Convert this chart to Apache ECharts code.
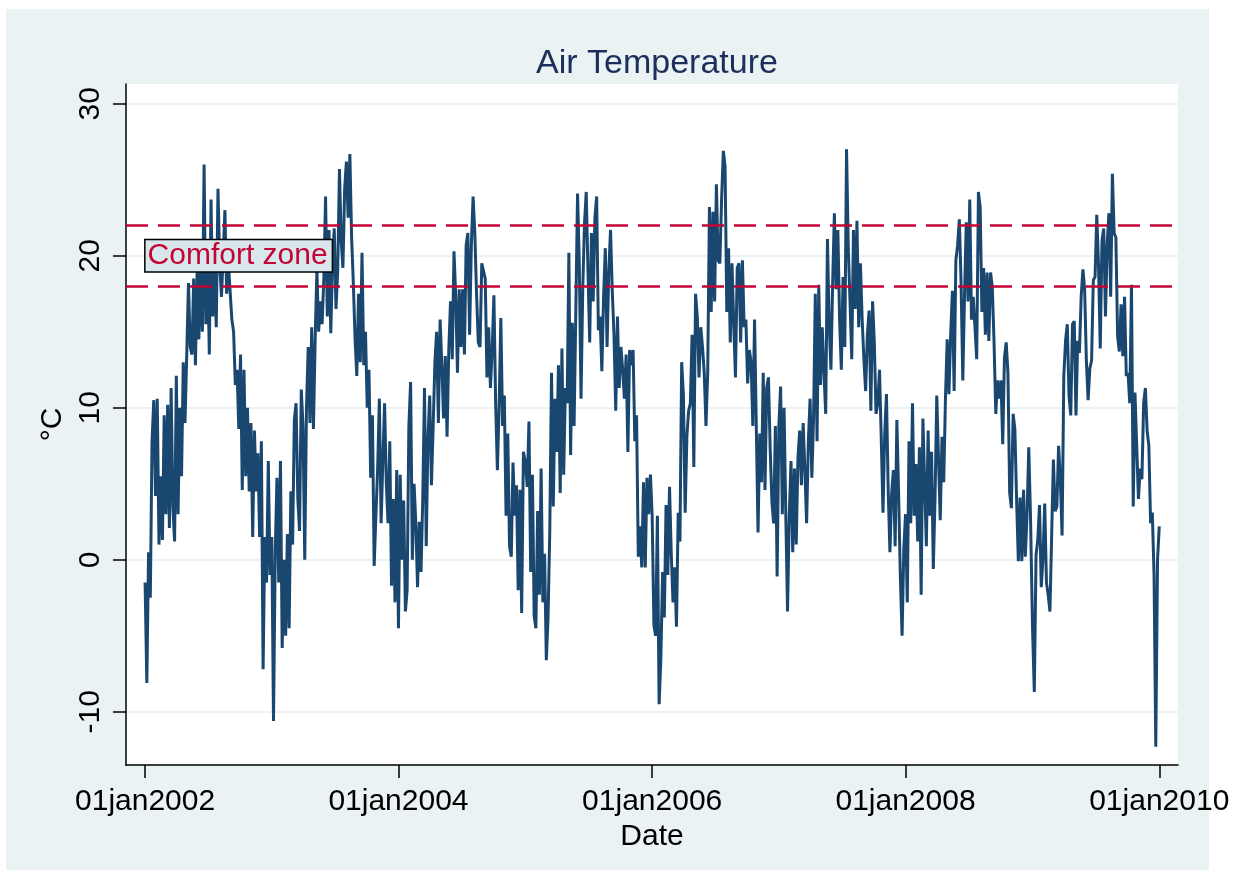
<!DOCTYPE html>
<html>
<head>
<meta charset="utf-8">
<title>Air Temperature</title>
<script src="https://cdn.jsdelivr.net/npm/echarts@6.0.0/dist/echarts.min.js"></script>
<style>
  html, body { margin: 0; padding: 0; background: #fff; }
  #panel { position: absolute; left: 6px; top: 9px; width: 1203px; height: 861px; background: #eaf2f3; }
  #main { position: absolute; left: 0; top: 0; width: 1247px; height: 880px; }
</style>
</head>
<body>
<div id="panel"></div>
<div id="main"></div>
<script>
// daily air temperature, every 5 days (starting 1 Jan of each year)
var years = [2002, 2003, 2004, 2005, 2006, 2007, 2008, 2009];
var stepDays = 5;

var t2002 = [-1.5, -8.1, 0.5, -2.5, 7.8, 10.5, 4.2, 10.6, 1.0, 5.5, 1.3, 9.5, 3.0, 10.2, 2.1, 11.3, 3.5, 1.2, 12.1, 3.0,
  10.0, 5.5, 13.0, 9.0, 13.5, 18.2, 14.0, 13.5, 18.5, 12.8, 19.0, 14.5, 20.0, 15.0, 26.0, 15.5, 20.0, 13.5, 23.7, 16.0,
  20.0, 15.3, 24.4, 19.5, 17.3, 20.0, 23.0, 17.5, 19.5, 19.5, 15.8, 15.0, 11.5, 12.5, 8.6, 13.5, 4.6, 12.5, 5.5, 10.0,
  4.5, 9.0, 1.5, 8.5, 4.5, 7.0, 1.5, 7.8, -7.2, 1.5, -1.5, 6.5, -1.0];
var t2003 = [1.5, -10.6, 0.5, 5.4, -1.5, 6.5, -5.8, 0.0, -5.0, 1.7, -4.5, 4.5, 1.0, 9.2, 10.3, 4.0, 1.9, 11.2, 8.8, 0.0,
  10.0, 14.0, 9.0, 15.3, 8.6, 14.5, 19.1, 15.0, 17.0, 15.5, 18.5, 23.9, 16.0, 21.7, 14.9, 19.5, 21.8, 16.5, 19.0, 25.7,
  21.0, 19.2, 24.4, 26.2, 22.5, 26.7, 21.2, 18.2, 14.5, 12.1, 17.5, 13.0, 20.2, 12.8, 15.0, 10.0, 12.5, 5.4, 9.5, -0.4,
  2.9, 6.0, 10.6, 2.4, 6.5, 10.3, 5.0, 2.4, 7.8, -1.7, 4.0, -2.8, 5.9];
var t2004 = [-4.5, 5.6, 0, 3.9, -3.4, -2, 8.8, 11.7, 0, 5, 2.4, -1.8, 2.5, -0.8, 4, 11.3, 0.9, 8, 10.8, 4.9,
  8.8, 13, 15, 9, 15.8, 12.8, 9.3, 13.4, 8.1, 13.8, 17, 13.2, 20.3, 17.3, 12.3, 17.8, 14, 17.8, 13.5, 20.7,
  21.5, 14.8, 20.7, 23.9, 21.5, 17.5, 14.3, 14, 19.5, 19.6, 18.5, 12, 15.3, 11.3, 13.8, 17.4, 10.3, 5.9, 10.1, 15.9,
  8.8, 10.8, 2.9, 8.3, 0.9, 0.2, 6.4, 2.9, 4.9, -2, 4.6, -3.5, 7.1];
var t2005 = [6.4, 4.8, 9.1, -0.8, 5.6, -3.7, -4.5, 3.2, -2.3, 6, -2.8, 0.4, -6.6, -3.8, 1.9, 12.3, 3.5, 10.6, 7.1, 12.8,
  4.4, 13.9, 5.6, 11.3, 10.3, 20.2, 6.9, 15.6, 8.8, 16.3, 24.1, 19.5, 10.6, 17.8, 22.1, 24.2, 19, 14.3, 21.5, 17,
  22.5, 23.9, 15.1, 16, 12.4, 17.3, 20.5, 14, 19, 21.7, 17.7, 14.8, 9.8, 16, 11.3, 14, 12.5, 10.6, 13.5, 7.1,
  13.8, 12.8, 13.8, 7.8, 9.5, 0.2, 2.2, -0.5, 5.1, -0.5, 5.4, 3, 5.6];
var t2006 = [2.9, -4.3, -5, 2.9, -9.5, -6.5, -0.8, -3.8, 3.6, -1, 4.8, 0.4, -2.8, -0.5, -4.4, 3.1, 1.2, 13, 10.8, 3.1,
  8.1, 9.8, 10.3, 14.8, 6.1, 17.5, 16, 12, 15.3, 14, 12.3, 8.8, 12.3, 23.2, 16.3, 22.9, 17, 24.7, 19.7, 19.5,
  23.7, 26.9, 25.9, 16.3, 20.5, 14.3, 19.5, 15.5, 12, 19.2, 19.5, 14.3, 19.7, 15.3, 15.8, 11.6, 13.8, 13, 8.8, 15.8,
  15.8, 1.8, 8.3, 5.1, 12.3, 4.6, 11.3, 12, 7.3, 3.8, 2.4, 8.8, -1.1];
var t2007 = [8.8, 11.4, 3, 10, 3, -3.4, 2.9, 6.5, 0.5, 6, 1, 6.7, 8.5, 4.9, 9, 5.9, 2.4, 7.8, 10.6, 5.4,
  9.3, 17.5, 7.8, 18.1, 11.5, 15.3, 12.3, 9.6, 21.1, 15.5, 12.5, 18.2, 22.8, 17.8, 21.7, 15.8, 12.5, 18.6, 14, 27,
  20.5, 17, 13.2, 21.7, 16.5, 22.3, 15.3, 19.5, 15.8, 13.2, 11.1, 14.8, 16.4, 9.8, 17, 14.3, 9.6, 10.3, 12.5, 8,
  3.1, 8.3, 10.9, 4.6, 0.5, 4.4, 5.9, 0.9, 9.2, 4.4, -1.1, -5, 0.7];
var t2008 = [3, -2.8, 7.8, 2.4, 10.3, 2.9, 6.3, 1.2, 7.4, -2.3, 9.3, 9.2, 0.9, 8.5, 2.9, 7.1, -0.6, 4.1, 10.8, 6.6,
  2.6, 8.1, 5.1, 10.6, 14.5, 10.9, 14.8, 17.7, 11.1, 19.7, 20.7, 22.4, 18.2, 11.8, 17.5, 22.2, 17, 23.7, 15.8, 17.3,
  15.3, 13.2, 24.2, 23.2, 16.3, 19.2, 14.8, 18.9, 14.4, 18.9, 17.9, 14.3, 9.6, 11.8, 10.6, 11.8, 7.6, 13.3, 14.3, 12.3,
  4.4, 3.4, 9.6, 8.6, 3.9, -0.1, 4.1, -0.1, 4.6, 0.2, 2.9, 7.4, 2.9];
var t2009 = [-4.6, -8.7, 0.3, 1.3, 3.6, -1.8, 0.1, 3.7, -1.5, -2.3, -3.4, 1.6, 6.6, 3.2, 3.5, 7.5, 5.3, 1.6, 12.1, 14.4,
  15.5, 10.8, 9.5, 15.5, 15.7, 9.5, 14.4, 13.6, 17.3, 19.1, 17.8, 13.1, 10.5, 12.6, 13.1, 18.4, 18.6, 22.7, 19.4, 13.9,
  21, 21.8, 16, 20.8, 22.8, 17.3, 25.4, 21.5, 21.2, 14.7, 13.7, 16.8, 13.4, 17.3, 12.1, 12.3, 10.3, 18.1, 3.5, 11,
  11, 4, 6, 5.3, 10.3, 11.3, 8.5, 7.5, 2.4, 3.1, -1, -12.3, 0, 2.2];
var temps = [t2002, t2003, t2004, t2005, t2006, t2007, t2008, t2009];

// comfort zone bounds
var comfortLow = 18;
var comfortHigh = 22;

// tick labels
var xTickYears = [2002, 2004, 2006, 2008, 2010];
var yTicks = [-10, 0, 10, 20, 30];

var months = ['jan','feb','mar','apr','may','jun','jul','aug','sep','oct','nov','dec'];
var font = '"Liberation Sans", Arial, sans-serif';

var data = [];
for (var k = 0; k < years.length; k++) {
  for (var i = 0; i < temps[k].length; i++) {
    data.push([Date.UTC(years[k], 0, 1 + stepDays * i), temps[k][i]]);
  }
}
var xTicks = xTickYears.map(function (y) { return Date.UTC(y, 0, 1); });

var chart = echarts.init(document.getElementById('main'));
var option = {
  animation: false,
  backgroundColor: 'transparent',
  title: {
    text: 'Air Temperature',
    left: 652,
    textAlign: 'center',
    top: 42,
    textStyle: { fontSize: 34, fontWeight: 'normal', color: '#1c2e5a', fontFamily: font }
  },
  grid: {
    left: 126, right: 69, top: 84, bottom: 115,
    show: true, backgroundColor: '#fff', borderWidth: 0
  },
  xAxis: {
    // dates as UTC milliseconds on a plain value axis
    type: 'value',
    min: Date.UTC(2001, 10, 7),
    max: Date.UTC(2010, 1, 24),
    name: 'Date',
    nameLocation: 'middle',
    nameGap: 48,
    nameTextStyle: { fontSize: 30, color: '#000', fontFamily: font },
    axisLine: { onZero: false, lineStyle: { color: '#000', width: 1.5 } },
    axisTick: { show: true, length: 13, lineStyle: { color: '#000', width: 1.5 }, customValues: xTicks },
    axisLabel: {
      customValues: xTicks,
      fontSize: 30, color: '#000', fontFamily: font, margin: 22,
      formatter: function (v) {
        var d = new Date(v);
        var dd = d.getUTCDate();
        return (dd < 10 ? '0' : '') + dd + months[d.getUTCMonth()] + d.getUTCFullYear();
      }
    },
    splitLine: { show: false }
  },
  yAxis: {
    type: 'value',
    min: -13.5,
    max: 31.3,
    name: '°C',
    nameLocation: 'middle',
    nameGap: 53,
    nameTextStyle: { fontSize: 30, color: '#000', fontFamily: font },
    axisLine: { show: true, onZero: false, lineStyle: { color: '#000', width: 1.5 } },
    axisTick: { show: true, length: 13, lineStyle: { color: '#000', width: 1.5 }, customValues: yTicks },
    axisLabel: { customValues: yTicks, rotate: 90, fontSize: 30, color: '#000', fontFamily: font, margin: 20 },
    splitLine: { show: true, lineStyle: { color: '#eaf2f3', width: 2 } }
  },
  series: [
    {
      name: 'comfort',
      type: 'line',
      data: [],
      z: 1,
      markLine: {
        silent: true,
        symbol: ['none', 'none'],
        label: { show: false },
        lineStyle: { color: '#c10534', width: 2.5, type: [22, 10] },
        data: [{ yAxis: comfortHigh }, { yAxis: comfortLow }]
      }
    },
    {
      name: 'Air temperature',
      type: 'line',
      data: data,
      z: 2,
      showSymbol: false,
      lineStyle: { color: '#1a476f', width: 3 },
      itemStyle: { color: '#1a476f' }
    },
    {
      name: 'label',
      type: 'line',
      data: [],
      z: 5,
      markPoint: {
        silent: true,
        symbol: 'rect',
        symbolSize: 1,
        itemStyle: { color: 'rgba(0,0,0,0)' },
        label: {
          show: true,
          position: 'right',
          distance: 0,
          formatter: 'Comfort zone',
          fontSize: 30,
          fontFamily: font,
          color: '#c10534',
          backgroundColor: '#d9e6eb',
          borderColor: '#000',
          borderWidth: 1.5,
          padding: [1, 4, 0, 2]
        },
        data: [{ coord: [Date.UTC(2002, 0, 1), (comfortLow + comfortHigh) / 2] }]
      }
    }
  ]
};
chart.setOption(option);
</script>
</body>
</html>
